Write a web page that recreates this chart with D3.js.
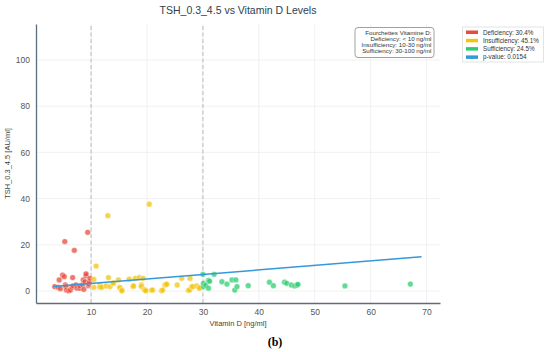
<!DOCTYPE html>
<html>
<head>
<meta charset="utf-8">
<script src="https://cdn.jsdelivr.net/npm/d3@7"></script>
<style>
  body { margin: 0; background: #fff; }
  svg { display: block; font-family: "Liberation Sans", Arial, sans-serif; }
</style>
</head>
<body>
<div id="chart"></div>
<script>
// points: [vitamin D, TSH]
const deficiency = [
  [3.5, 1.9], [4.1, 1.6], [4.3, 4.8], [4.5, 1.0], [4.9, 6.9], [5.2, 6.2], [5.3, 21.4],
  [5.4, 2.6], [5.5, 1.9], [5.6, 0.4], [6.0, 0.1], [6.3, 0.4], [6.6, 1.6], [6.7, 5.8],
  [6.8, 2.2], [7.0, 17.6], [7.3, 2.6], [7.5, 1.2], [8.0, 1.2], [8.0, 2.2], [8.5, 2.6],
  [8.6, 4.8], [8.7, 0.7], [8.9, 4.0], [9.1, 6.6], [9.1, 7.4], [9.4, 25.4], [9.5, 2.3],
  [9.6, 3.0], [9.7, 4.0], [9.8, 5.5]
];
const insufficiency = [
  [10.5, 5.0], [10.5, 1.6], [10.9, 10.8], [11.6, 2.6], [11.6, 1.6], [11.9, 1.6], [12.7, 2.2],
  [13.0, 32.6], [13.1, 5.8], [13.4, 1.9], [13.9, 3.2], [14.0, 3.5], [14.9, 4.8], [15.1, 1.6],
  [15.2, 1.3], [15.5, 0.4], [15.5, 0.1], [16.8, 5.1], [17.5, 1.9], [17.6, 2.2], [17.9, 5.5],
  [18.6, 5.8], [19.0, 2.6], [19.0, 1.9], [19.3, 5.5], [19.5, 0.7], [19.6, 0.4], [19.8, 0.1],
  [20.4, 37.6], [20.8, 0.4], [21.0, 0.4], [22.6, 0.1], [22.8, 0.4], [23.2, 2.6], [23.5, 3.0],
  [23.5, 2.9], [25.4, 2.6], [26.2, 5.5], [27.4, 0.3], [27.6, 0.4], [27.7, 5.5], [28.0, 1.9],
  [28.2, 1.9], [28.9, 2.2], [29.4, 1.6], [29.4, 1.2]
];
const sufficiency = [
  [30.0, 7.2], [30.1, 1.9], [30.1, 3.3], [30.5, 2.5], [31.0, 4.6], [31.0, 1.2], [31.2, 4.2],
  [32.0, 7.2], [33.4, 4.0], [34.3, 3.0], [35.2, 4.8], [35.7, 0.4], [35.9, 4.8], [36.1, 1.9],
  [38.1, 2.3], [41.9, 3.8], [42.6, 2.3], [44.6, 3.8], [45.0, 3.3], [45.8, 2.6], [46.4, 2.2],
  [46.8, 2.5], [47.0, 2.9], [55.4, 2.2], [67.1, 3.0]
];
const trendLine = [[3.2, 1.9], [69.1, 14.8]];
const thresholds = [10, 30];
const xTicks = [10, 20, 30, 40, 50, 60, 70];
const yTicks = [0, 20, 40, 60, 80, 100];
const rangeNotes = ["Fourchettes Vitamine D:", "Deficiency: < 10 ng/ml",
  "Insufficiency: 10-30 ng/ml", "Sufficiency: 30-100 ng/ml"];
const legendLabels = ["Deficiency: 30.4%", "Insufficiency: 45.1%", "Sufficiency: 24.5%", "p-value: 0.0154"];
const colors = ["#e74c3c", "#f1c40f", "#2ecc71", "#3498db"];

const W = 550, H = 352;
const MARGIN = { TOP: 24, BOTTOM: 49, LEFT: 36, RIGHT: 110 };

const svg = d3.select("#chart").append("svg")
  .attr("width", W).attr("height", H);

const x = d3.scaleLinear().domain([0.15, 72.4]).range([MARGIN.LEFT, W - MARGIN.RIGHT]);
const y = d3.scaleLinear().domain([-5.2, 115.6]).range([H - MARGIN.BOTTOM, MARGIN.TOP]);

// grid
svg.append("g").selectAll("line").data(xTicks).join("line")
  .attr("x1", d => x(d)).attr("x2", d => x(d))
  .attr("y1", y.range()[0]).attr("y2", y.range()[1])
  .attr("stroke", "#eeeeee").attr("stroke-width", 0.8);
svg.append("g").selectAll("line").data(yTicks).join("line")
  .attr("x1", x.range()[0]).attr("x2", x.range()[1])
  .attr("y1", d => y(d)).attr("y2", d => y(d))
  .attr("stroke", "#eeeeee").attr("stroke-width", 0.8);

// threshold lines
svg.append("g").selectAll("line").data(thresholds).join("line")
  .attr("x1", d => x(d)).attr("x2", d => x(d))
  .attr("y1", y.range()[0]).attr("y2", y.range()[1])
  .attr("stroke", "#bbbbbb").attr("stroke-width", 1)
  .attr("stroke-dasharray", "4,2.5");

// axes
const xAxis = svg.append("g")
  .attr("transform", `translate(0, ${y.range()[0]})`)
  .call(d3.axisBottom(x).tickValues(xTicks).tickSize(0).tickPadding(6));
const yAxis = svg.append("g")
  .attr("transform", `translate(${x.range()[0]}, 0)`)
  .call(d3.axisLeft(y).tickValues(yTicks).tickSize(0).tickPadding(6));
[xAxis, yAxis].forEach(a => {
  a.select(".domain").attr("stroke", "#5d6d7e").attr("stroke-width", 1.3);
  a.selectAll("text").attr("font-size", 8.5).attr("fill", "#555")
    .attr("font-family", "Liberation Sans, Arial, sans-serif");
});

// points
[deficiency, insufficiency, sufficiency].forEach((group, i) => {
  svg.append("g").selectAll("circle").data(group).join("circle")
    .attr("cx", d => x(d[0])).attr("cy", d => y(d[1]))
    .attr("r", 2.9)
    .attr("fill", colors[i]).attr("fill-opacity", 0.75)
    .attr("stroke", "#fff").attr("stroke-width", 0.4);
});

// regression line
svg.append("path")
  .datum(trendLine)
  .attr("d", d3.line().x(d => x(d[0])).y(d => y(d[1])))
  .attr("fill", "none").attr("stroke", colors[3]).attr("stroke-width", 1.5);

// titles
svg.append("text")
  .attr("x", (x.range()[0] + x.range()[1]) / 2).attr("y", 14)
  .attr("text-anchor", "middle").attr("font-size", 10.5).attr("fill", "#2c3e50")
  .text("TSH_0.3_4.5 vs Vitamin D Levels");
svg.append("text")
  .attr("x", (x.range()[0] + x.range()[1]) / 2).attr("y", 325.5)
  .attr("text-anchor", "middle").attr("font-size", 7.5).attr("fill", "#444")
  .text("Vitamin D [ng/ml]");
svg.append("text")
  .attr("transform", `translate(10, ${(y.range()[0] + y.range()[1]) / 2}) rotate(-90)`)
  .attr("text-anchor", "middle").attr("font-size", 7.5).attr("fill", "#444")
  .text("TSH_0.3_4.5 [AU/ml]");

// range notes box
const note = svg.append("g");
note.append("rect")
  .attr("x", 355).attr("y", 27.5).attr("width", 79).attr("height", 30)
  .attr("rx", 3).attr("fill", "#fff").attr("stroke", "#888").attr("stroke-width", 0.8);
note.selectAll("text").data(rangeNotes).join("text")
  .attr("x", 431.5).attr("y", (d, i) => 34.5 + i * 6.3)
  .attr("text-anchor", "end").attr("font-size", 6.2).attr("fill", "#333")
  .text(d => d);

// legend
const leg = svg.append("g");
leg.append("rect")
  .attr("x", 462.5).attr("y", 27).attr("width", 81).attr("height", 35)
  .attr("fill", "#fff").attr("stroke", "#ddd").attr("stroke-width", 0.8);
legendLabels.forEach((label, i) => {
  leg.append("rect")
    .attr("x", 466).attr("y", 30.5 + i * 8.3).attr("width", 12).attr("height", 3.5)
    .attr("fill", colors[i]);
  leg.append("text")
    .attr("x", 483).attr("y", 34.5 + i * 8.3)
    .attr("font-size", 6.3).attr("fill", "#333")
    .text(label);
});

// panel tag
svg.append("text")
  .attr("x", W / 2).attr("y", 346)
  .attr("text-anchor", "middle").attr("font-size", 12).attr("font-weight", "bold")
  .attr("font-family", "Liberation Serif, Times New Roman, serif")
  .text("(b)");
</script>
</body>
</html>
